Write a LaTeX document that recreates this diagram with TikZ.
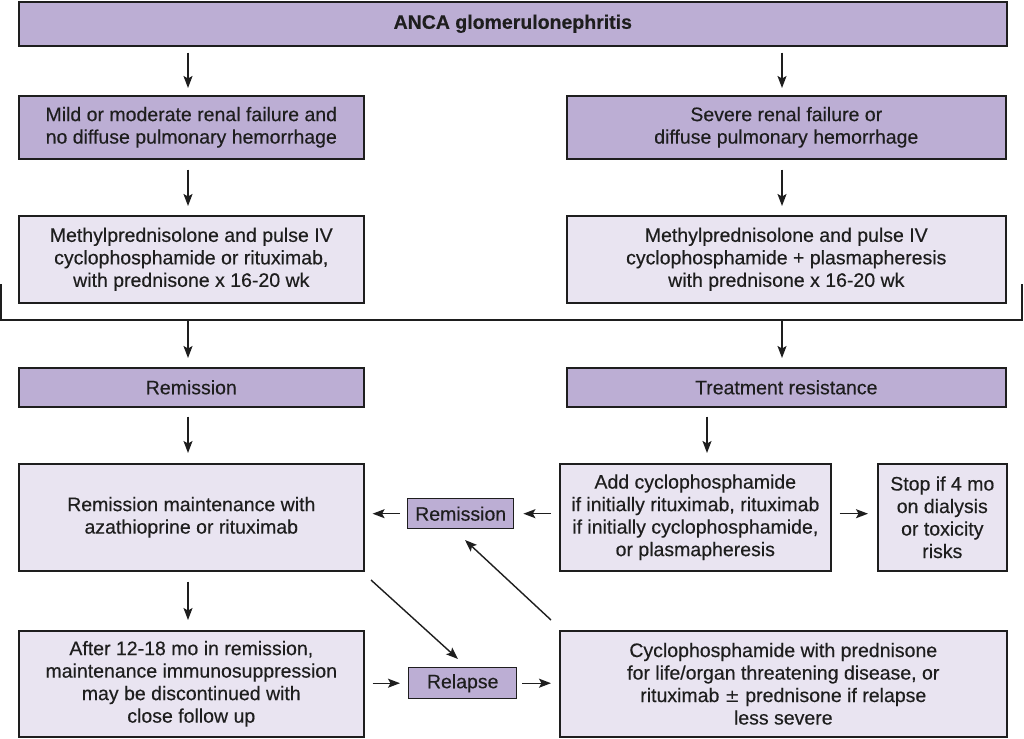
\documentclass[tikz,border=0pt]{standalone}
\usepackage{fontspec}
\setmainfont{Liberation Sans}[FakeBold=0.35]
\newfontfamily\symfont{DejaVu Sans}
\usetikzlibrary{arrows.meta}
\definecolor{hdr}{HTML}{BCAED4}
\definecolor{lite}{HTML}{E9E4F1}
\definecolor{ink}{HTML}{1E1E1E}
\tikzset{
  box/.style={draw=ink, line width=1.6pt, anchor=north west, align=center, inner sep=0pt,
    font=\fontsize{19.5}{22.5}\selectfont, text=ink},
  hbox/.style={box, fill=hdr},
  lbox/.style={box, fill=lite},
  arr/.style={draw=ink, line width=1.4pt, -{Stealth[length=12pt,width=9pt,inset=2.5pt]}},
  ln/.style={draw=ink, line width=1.4pt}
}
\begin{document}
\begin{tikzpicture}[x=1pt,y=-1pt]
\useasboundingbox[fill=white] (0,0) rectangle (1024,738);
% top
\node[hbox, minimum width=988pt, minimum height=44pt, font=\bfseries\fontsize{19.5}{22.5}\selectfont] (top) at (18,1) {ANCA glomerulonephritis};
% row 2
\node[hbox, minimum width=345pt, minimum height=63pt] (mild) at (18,95) {Mild or moderate renal failure and\\no diffuse pulmonary hemorrhage};
\node[hbox, minimum width=439pt, minimum height=63pt] (sev) at (566,95) {Severe renal failure or\\diffuse pulmonary hemorrhage};
% row 3
\node[lbox, minimum width=345pt, minimum height=87pt] (mp1) at (18,215) {Methylprednisolone and pulse IV\\cyclophosphamide or rituximab,\\with prednisone x 16-20 wk};
\node[lbox, minimum width=439pt, minimum height=87pt] (mp2) at (566,215) {Methylprednisolone and pulse IV\\cyclophosphamide + plasmapheresis\\with prednisone x 16-20 wk};
% bracket
\coordinate (bl) at (1,284);
\coordinate (blc) at (1,320);
\coordinate (brc) at (1022,320);
\coordinate (br) at (1022,284);
\draw[ln] (bl) -- (blc) -- (brc) -- (br);
\coordinate (s1) at (188,320);
\coordinate (s2) at (782,320);
% row 4
\node[hbox, minimum width=345pt, minimum height=39pt] (rem) at (18,367) {Remission};
\node[hbox, minimum width=439pt, minimum height=39pt] (tr) at (566,367) {Treatment resistance};
% row 5
\node[lbox, minimum width=345pt, minimum height=107pt] (maint) at (18,463) {Remission maintenance with\\azathioprine or rituximab};
\node[lbox, minimum width=271pt, minimum height=107pt] (add) at (559,463) {Add cyclophosphamide\\if initially rituximab, rituximab\\if initially cyclophosphamide,\\or plasmapheresis};
\node[lbox, minimum width=129pt, minimum height=107pt] (stop) at (877,463) {Stop if 4 mo\\on dialysis\\or toxicity\\risks};
\node[hbox, minimum width=106pt, minimum height=30pt, line width=1.4pt] (rem2) at (407,498) {Remission};
% row 6
\node[lbox, minimum width=345pt, minimum height=106pt] (after) at (18,630) {After 12-18 mo in remission,\\maintenance immunosuppression\\may be discontinued with\\close follow up};
\node[lbox, minimum width=447pt, minimum height=106pt] (cyc) at (559,630) {Cyclophosphamide with prednisone\\for life/organ threatening disease, or\\rituximab {\symfont\fontsize{18}{22}\selectfont±} prednisone if relapse\\less severe};
\node[hbox, minimum width=108pt, minimum height=31pt, line width=1.4pt] (rel) at (408,667) {Relapse};
% column coordinates
\coordinate (cl) at (188,0);
\coordinate (cr) at (782,0);
\coordinate (ca) at (707,0);
% vertical arrows
\draw[arr, shorten <=6pt, shorten >=7pt] (top.south -| cl) -- (mild.north -| cl);
\draw[arr, shorten <=6pt, shorten >=7pt] (top.south -| cr) -- (sev.north -| cr);
\draw[arr, shorten <=10pt, shorten >=9pt] (mild.south -| cl) -- (mp1.north -| cl);
\draw[arr, shorten <=10pt, shorten >=9pt] (sev.south -| cr) -- (mp2.north -| cr);
\draw[arr, shorten <=1pt, shorten >=9pt] (s1) -- (rem.north -| s1);
\draw[arr, shorten <=1pt, shorten >=9pt] (s2) -- (tr.north -| s2);
\draw[arr, shorten <=9pt, shorten >=10pt] (rem.south -| cl) -- (maint.north -| cl);
\draw[arr, shorten <=9pt, shorten >=10pt] (tr.south -| ca) -- (add.north -| ca);
\draw[arr, shorten <=10pt, shorten >=10pt] (maint.south -| cl) -- (after.north -| cl);
% horizontal arrows
\draw[arr, shorten <=8pt, shorten >=9pt] (add.west |- rem2) -- (rem2.east);
\draw[arr, shorten <=7pt, shorten >=8pt] (rem2.west) -- (maint.east |- rem2);
\draw[arr, shorten <=8pt, shorten >=9pt] (add.east |- rem2) -- (stop.west |- rem2);
\draw[arr, shorten <=8pt, shorten >=8pt] (after.east |- rel) -- (rel.west);
\draw[arr, shorten <=5pt, shorten >=8pt] (rel.east) -- (cyc.west |- rel);
% diagonals
\coordinate (d1) at (371,580);
\coordinate (d1e) at (458,659);
\coordinate (d2) at (551,620);
\coordinate (d2e) at (465,540);
\draw[arr] (d1) -- (d1e);
\draw[arr] (d2) -- (d2e);
\end{tikzpicture}
\end{document}
